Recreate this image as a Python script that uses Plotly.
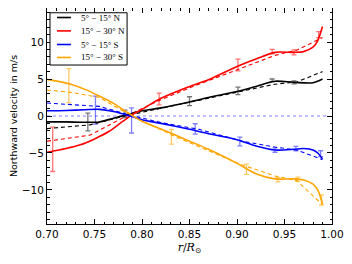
import plotly.graph_objects as go

# ---------------- data ----------------
labels = ["5° − 15° N", "15° − 30° N", "5° − 15° S", "15° − 30° S"]
colors = ["#000000", "#ff0000", "#0000ff", "#ffa500"]
err_colors = ["rgba(0,0,0,0.55)", "rgba(255,0,0,0.55)", "rgba(0,0,255,0.5)", "rgba(255,165,0,0.6)"]

# solid (smooth) curves
black_x = [0.70, 0.72, 0.74, 0.755, 0.77, 0.785, 0.80, 0.82, 0.85, 0.87, 0.90, 0.92, 0.94, 0.96, 0.98, 0.99]
black_y = [-0.8, -0.8, -0.85, -0.8, -0.3, 0.2, 0.7, 1.1, 1.9, 2.5, 3.3, 4.0, 4.7, 4.55, 4.5, 5.0]
red_x = [0.70, 0.72, 0.735, 0.75, 0.765, 0.78, 0.79, 0.80, 0.82, 0.85, 0.87, 0.90, 0.92, 0.94, 0.96, 0.97, 0.98, 0.985, 0.99]
red_y = [-4.9, -4.4, -3.9, -3.1, -2.1, -0.7, 0.2, 0.9, 2.4, 4.0, 4.9, 6.7, 7.7, 8.6, 8.6, 8.7, 9.3, 10.2, 12.1]
blue_x = [0.70, 0.72, 0.74, 0.755, 0.77, 0.785, 0.80, 0.82, 0.85, 0.87, 0.90, 0.92, 0.94, 0.96, 0.97, 0.98, 0.985, 0.99]
blue_y = [0.7, 0.75, 0.85, 0.9, 0.6, 0.1, -0.5, -1.0, -1.8, -2.4, -3.2, -4.05, -4.6, -4.5, -4.4, -4.6, -5.0, -5.8]
orange_x = [0.70, 0.725, 0.74, 0.755, 0.77, 0.785, 0.80, 0.82, 0.85, 0.87, 0.90, 0.92, 0.94, 0.96, 0.97, 0.98, 0.985, 0.99]
orange_y = [4.95, 4.3, 3.6, 2.7, 1.7, 0.45, -0.7, -1.75, -3.4, -4.5, -6.4, -7.8, -8.5, -8.5, -8.65, -9.2, -10.0, -11.9]

# dashed curves
black_dx = [0.70, 0.745, 0.785, 0.80, 0.85, 0.905, 0.94, 0.963, 0.99]
black_dy = [-1.7, -1.2, 0.1, 0.5, 1.8, 3.3, 4.3, 4.6, 6.0]
red_dx = [0.70, 0.745, 0.785, 0.82, 0.85, 0.905, 0.94, 0.963, 0.99]
red_dy = [-3.4, -2.6, 0.1, 2.2, 3.8, 6.5, 8.2, 8.9, 10.6]
blue_dx = [0.70, 0.755, 0.785, 0.82, 0.86, 0.905, 0.94, 0.963, 0.99]
blue_dy = [1.75, 1.3, 0.2, -0.9, -1.8, -3.4, -4.2, -4.6, -5.9]
orange_dx = [0.70, 0.725, 0.755, 0.785, 0.83, 0.905, 0.94, 0.963, 0.99]
orange_dy = [3.5, 3.2, 2.5, 0.3, -2.5, -6.6, -8.1, -8.75, -12.0]

# error bars
black_ex = [0.743, 0.782, 0.85, 0.901, 0.937, 0.960]
black_ey = [-0.8, 0.3, 2.0, 3.4, 4.8, 4.55]
black_ee = [1.2, 0.5, 0.6, 0.5, 0.2, 0.2]
red_ex = [0.706, 0.818, 0.901, 0.937, 0.960, 0.986]
red_ey = [-4.5, 2.3, 6.9, 8.7, 8.6, 11.0]
red_ee = [3.0, 0.8, 0.8, 0.3, 0.35, 0.4]
blue_ex = [0.751, 0.789, 0.856, 0.903, 0.940, 0.962, 0.988]
blue_ey = [0.8, -0.6, -1.75, -3.45, -4.6, -4.4, -5.1]
blue_ee = [1.9, 1.7, 0.7, 0.6, 0.3, 0.3, 0.4]
orange_ex = [0.723, 0.831, 0.910, 0.943, 0.964, 0.989]
orange_ey = [4.1, -2.8, -7.2, -8.6, -8.55, -11.35]
orange_ee = [2.3, 1.0, 0.7, 0.3, 0.3, 0.7]

zero_x = [0.70, 0.995]
zero_y = [0, 0]

x_ticks = [0.70, 0.75, 0.80, 0.85, 0.90, 0.95, 1.00]
x_ticklabels = ["0.70", "0.75", "0.80", "0.85", "0.90", "0.95", "1.00"]
y_ticks = [-10, -5, 0, 5, 10]
y_ticklabels = ["−10", "−5", "0", "5", "10"]

solids = [(black_x, black_y), (red_x, red_y), (blue_x, blue_y), (orange_x, orange_y)]
dashes = [(black_dx, black_dy), (red_dx, red_dy), (blue_dx, blue_dy), (orange_dx, orange_dy)]
errs = [(black_ex, black_ey, black_ee), (red_ex, red_ey, red_ee),
        (blue_ex, blue_ey, blue_ee), (orange_ex, orange_ey, orange_ee)]

# ---------------- figure ----------------
fig = go.Figure()

fig.add_trace(go.Scatter(x=zero_x, y=zero_y, mode="lines",
                         line=dict(color="rgba(90,90,255,0.75)", width=1, dash="dot"),
                         showlegend=False, hoverinfo="skip"))

for i in range(4):
    ex, ey, ee = errs[i]
    fig.add_trace(go.Scatter(x=ex, y=ey, mode="markers",
                             marker=dict(size=0.1, color="rgba(0,0,0,0)"),
                             error_y=dict(type="data", array=ee, color=err_colors[i],
                                          thickness=1.3, width=2.5),
                             showlegend=False, hoverinfo="skip"))

for i in range(4):
    dx, dy = dashes[i]
    fig.add_trace(go.Scatter(x=dx, y=dy, mode="lines",
                             line=dict(color=colors[i], width=1.1, dash="4px,3px"),
                             showlegend=False))

for i in range(4):
    sx, sy = solids[i]
    fig.add_trace(go.Scatter(x=sx, y=sy, mode="lines", name=labels[i], showlegend=False,
                             line=dict(color=colors[i], width=1.6, shape="spline", smoothing=0.8)))

# hand-drawn legend (compact, like the reference)
fig.add_shape(type="rect", xref="paper", yref="paper", x0=0.0105, x1=0.281, y0=0.736, y1=0.978,
              line=dict(color="black", width=1), fillcolor="white", layer="above")
row_y = [0.956, 0.894, 0.831, 0.771]
for i in range(4):
    fig.add_shape(type="line", xref="paper", yref="paper", x0=0.035, x1=0.084,
                  y0=row_y[i], y1=row_y[i], line=dict(color=colors[i], width=1.6), layer="above")
    fig.add_annotation(xref="paper", yref="paper", x=0.112, y=row_y[i], text=labels[i],
                       showarrow=False, xanchor="left", yanchor="middle",
                       font=dict(family="Liberation Serif", size=9, color="black"))

axis_common = dict(
    showline=True, linecolor="black", linewidth=1, mirror="allticks",
    ticks="inside", ticklen=5, tickcolor="black", tickwidth=1,
    showgrid=False, zeroline=False,
    tickfont=dict(family="DejaVu Sans", size=10.5, color="black"),
)

fig.update_xaxes(range=[0.70, 1.00], tickvals=x_ticks, ticktext=x_ticklabels,
                 minor=dict(ticks="inside", dtick=0.01, ticklen=2.5, tickcolor="black", tick0=0.70),
                 title=dict(text="<i>r</i>/<i>R</i><sub>⊙</sub>",
                            font=dict(family="DejaVu Serif", size=11, color="black"), standoff=4),
                 **axis_common)
fig.update_yaxes(range=[-14.6, 14.6], tickvals=y_ticks, ticktext=y_ticklabels,
                 minor=dict(ticks="inside", dtick=1, ticklen=2.5, tickcolor="black", tick0=0),
                 title=dict(text="Northward velocity in m/s",
                            font=dict(family="DejaVu Sans", size=9.5, color="black"), standoff=6),
                 **axis_common)

# page body has an 8px default margin, so the figure is made 8px smaller
fig.update_layout(
    width=344, height=256,
    margin=dict(l=39, r=20, t=0, b=40, autoexpand=False),
    paper_bgcolor="white", plot_bgcolor="white",
    showlegend=False,
)

fig.write_html("out.html")
